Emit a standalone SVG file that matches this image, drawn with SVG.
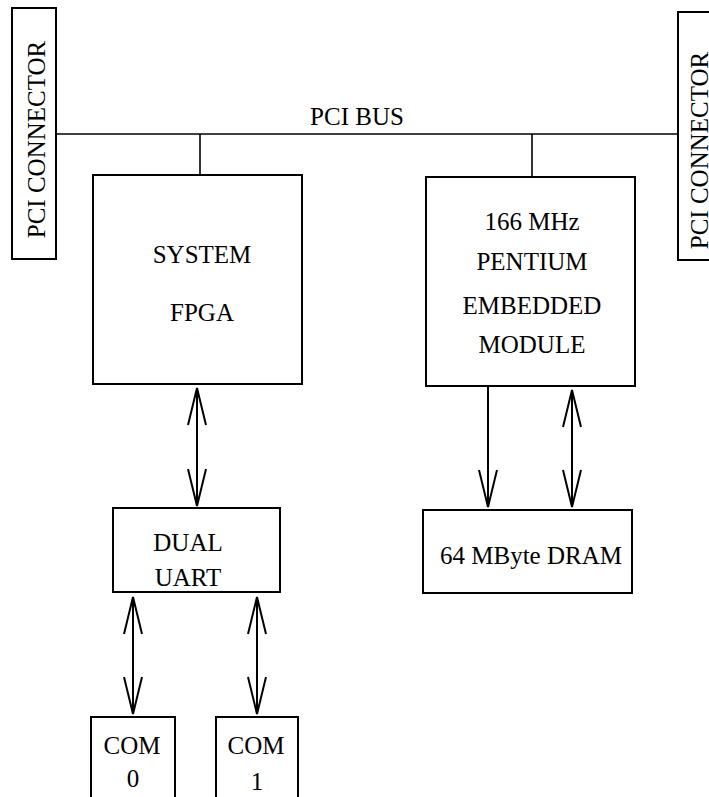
<svg xmlns="http://www.w3.org/2000/svg" width="709" height="797" viewBox="0 0 709 797">
<style>
.box{fill:#fff;stroke:#000;stroke-width:2}
.ln{fill:none;stroke:#000;stroke-width:1.6}
.ar{fill:none;stroke:#000;stroke-width:2}
.t{font-family:'Liberation Serif','DejaVu Serif','Times New Roman',serif;font-size:25px;fill:#000;text-anchor:middle}
</style>
<defs>
<marker id="v" markerUnits="userSpaceOnUse" viewBox="0 -11 42 22" markerWidth="42" markerHeight="22" refX="40" refY="0" orient="auto-start-reverse">
<path d="M3,-9 L40,0 L3,9" fill="none" stroke="#000" stroke-width="2"/>
</marker>
</defs>
<rect width="709" height="797" fill="#fff"/>
<g id="connectors">
<path class="ln" d="M56,134 L678,134"/>
<path class="ln" d="M200,134 L200,175"/>
<path class="ln" d="M532,134 L532,177"/>
<path class="ar" d="M197,388 L197,506" marker-start="url(#v)" marker-end="url(#v)"/>
<path class="ar" d="M488,386 L488,507" marker-end="url(#v)"/>
<path class="ar" d="M572,390 L572,507" marker-start="url(#v)" marker-end="url(#v)"/>
<path class="ar" d="M133,597 L133,714" marker-start="url(#v)" marker-end="url(#v)"/>
<path class="ar" d="M257,597 L257,714" marker-start="url(#v)" marker-end="url(#v)"/>
<text class="t" font-family="Liberation Serif, DejaVu Serif, serif" x="357" y="125">PCI BUS</text>
</g>
<g id="pci-left">
<rect class="box" x="12" y="8" width="44" height="251"/>
<text class="t" font-family="Liberation Serif, DejaVu Serif, serif" transform="translate(45,139.5) rotate(-90)">PCI CONNECTOR</text>
</g>
<g id="pci-right">
<rect class="box" x="678" y="12" width="50" height="248"/>
<text class="t" font-family="Liberation Serif, DejaVu Serif, serif" transform="translate(708,150.5) rotate(-90)">PCI CONNECTOR</text>
</g>
<g id="fpga">
<rect class="box" x="93" y="175" width="209" height="209"/>
<text class="t" font-family="Liberation Serif, DejaVu Serif, serif" x="202" y="263">SYSTEM</text>
<text class="t" font-family="Liberation Serif, DejaVu Serif, serif" x="202" y="321">FPGA</text>
</g>
<g id="pentium">
<rect class="box" x="426" y="177" width="209" height="209"/>
<text class="t" font-family="Liberation Serif, DejaVu Serif, serif" x="532" y="230">166 MHz</text>
<text class="t" font-family="Liberation Serif, DejaVu Serif, serif" x="532" y="270">PENTIUM</text>
<text class="t" font-family="Liberation Serif, DejaVu Serif, serif" x="532" y="314">EMBEDDED</text>
<text class="t" font-family="Liberation Serif, DejaVu Serif, serif" x="532" y="353">MODULE</text>
</g>
<g id="uart">
<rect class="box" x="113" y="508" width="167" height="84"/>
<text class="t" font-family="Liberation Serif, DejaVu Serif, serif" x="188" y="551">DUAL</text>
<text class="t" font-family="Liberation Serif, DejaVu Serif, serif" x="188" y="586">UART</text>
</g>
<g id="dram">
<rect class="box" x="423" y="510" width="209" height="83"/>
<text class="t" font-family="Liberation Serif, DejaVu Serif, serif" x="531" y="564">64 MByte DRAM</text>
</g>
<g id="com0">
<rect class="box" x="91" y="717" width="84" height="90"/>
<text class="t" font-family="Liberation Serif, DejaVu Serif, serif" x="132" y="754">COM</text>
<text class="t" font-family="Liberation Serif, DejaVu Serif, serif" x="133" y="787">0</text>
</g>
<g id="com1">
<rect class="box" x="216" y="717" width="82" height="90"/>
<text class="t" font-family="Liberation Serif, DejaVu Serif, serif" x="256" y="754">COM</text>
<text class="t" font-family="Liberation Serif, DejaVu Serif, serif" x="257" y="790">1</text>
</g>
</svg>
